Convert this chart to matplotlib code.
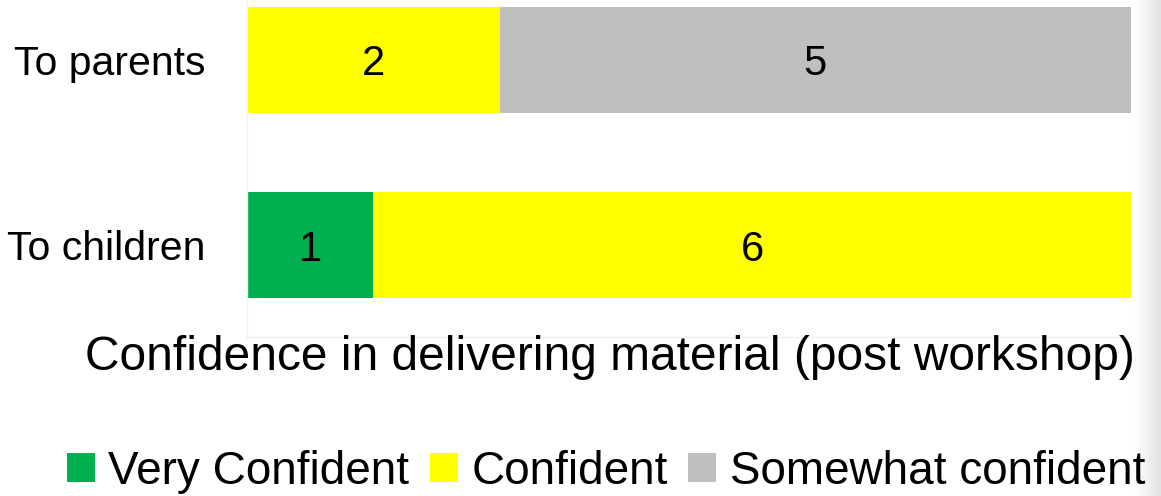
import numpy as np
import matplotlib.pyplot as plt
from matplotlib.patches import Patch
from matplotlib.colors import LinearSegmentedColormap

plt.rcParams['font.family'] = ['Liberation Sans', 'DejaVu Sans']

# Data
categories = ['To children', 'To parents']
series_names = ['Very Confident', 'Confident', 'Somewhat confident']
very_confident = [1, 0]
confident = [6, 2]
somewhat = [0, 5]
colors = ['#00b050', '#ffff00', '#bfbfbf']

fig = plt.figure(figsize=(11.61, 4.96), dpi=100)
ax = fig.add_axes([247 / 1161, 1 - 337 / 496, (1131 - 247) / 1161, 337 / 496])

# Stacked horizontal bars
left = [0, 0]
for vals, col in zip([very_confident, confident, somewhat], colors):
    bars = ax.barh(range(len(categories)), vals, left=left, height=0.57, color=col)
    for b, v in zip(bars, vals):
        if v > 0:
            ax.text(b.get_x() + b.get_width() / 2, b.get_y() + b.get_height() / 2,
                    str(v), ha='center', va='center_baseline', fontsize=30)
    left = [l + v for l, v in zip(left, vals)]

ax.set_xlim(0, 7)
ax.set_ylim(-0.497, 1.324)
ax.set_yticks(range(len(categories)))
ax.set_yticklabels(categories, fontsize=29.5)
ax.tick_params(axis='y', length=0, pad=30)
ax.set_xticks([])
for s in ['top', 'right']:
    ax.spines[s].set_visible(False)
for s in ['left', 'bottom']:
    ax.spines[s].set_color('#f0f0f0')
    ax.spines[s].set_linewidth(1)

fig.text(0.525, 1 - 358 / 496, 'Confidence in delivering material (post workshop)',
         ha='center', va='center', fontsize=34.5)

handles = [Patch(facecolor=c, edgecolor='none') for c in colors]
fig.legend(handles, series_names, loc='center', bbox_to_anchor=(0.522, 1 - 472 / 496),
           ncol=3, frameon=False, fontsize=33, handlelength=0.6, handleheight=0.6,
           handletextpad=0.3, columnspacing=0.45, borderaxespad=0)

# faint shadow at the right edge of the slide
shade = fig.add_axes([1134 / 1161, 0, 27 / 1161, 1], zorder=-1)
shade.imshow(np.linspace(0, 1, 50)[None, :], aspect='auto',
             cmap=LinearSegmentedColormap.from_list('sh', ['#ffffff', '#e2e2e2']))
shade.axis('off')

fig.savefig('out.png', dpi=100)
